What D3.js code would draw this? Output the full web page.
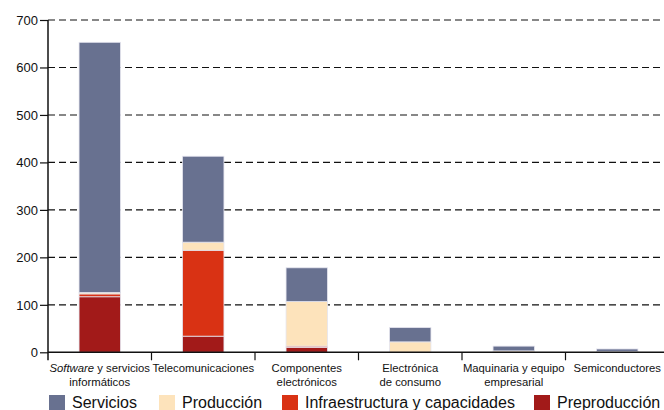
<!DOCTYPE html>
<html><head><meta charset="utf-8">
<script src="https://cdn.jsdelivr.net/npm/d3@7"></script>
<style>body{margin:0;background:#fff}svg{display:block;font-family:"Liberation Sans",Arial,sans-serif}</style>
</head><body><svg id="c" width="664" height="410"></svg>
<script>
const categories = ["Software y servicios informáticos","Telecomunicaciones","Componentes electrónicos","Electrónica de consumo","Maquinaria y equipo empresarial","Semiconductores"];
const labelLines = [["|Software| y servicios","informáticos"],["Telecomunicaciones"],["Componentes","electrónicos"],["Electrónica","de consumo"],["Maquinaria y equipo","empresarial"],["Semiconductores"]];
const seriesNames = ["Preproducción","Infraestructura y capacidades","Producción","Servicios"];
const preproduccion = [117, 34, 10, 0, 0, 0];
const infraestructura = [6, 181, 3, 0, 0, 0];
const produccion = [3, 17, 94, 22, 3, 2];
const servicios = [527, 181, 71, 30, 10, 5];
const colors = ["#a21a19","#d93214","#fde3bb","#687190"];
const yTicks = [0,100,200,300,400,500,600,700];
const legendOrder = ["Servicios","Producción","Infraestructura y capacidades","Preproducción"];

const svg = d3.select("#c");
const x0 = 48, x1 = 669, yTop = 20, yBot = 352.3;
const x = d3.scaleBand().domain(categories).range([x0, x1]).padding(0);
const y = d3.scaleLinear().domain([0,700]).range([yBot, yTop]);

const rows = categories.map((c,i)=>({cat:c, "Preproducción":preproduccion[i], "Infraestructura y capacidades":infraestructura[i], "Producción":produccion[i], "Servicios":servicios[i]}));
const stack = d3.stack().keys(seriesNames)(rows);
const color = d3.scaleOrdinal().domain(seriesNames).range(colors);

// grid
svg.append("g").selectAll("line").data(yTicks.filter(d=>d>0)).join("line")
  .attr("x1", x0).attr("x2", 664).attr("y1", d=>y(d)).attr("y2", d=>y(d))
  .attr("stroke","#111").attr("stroke-width",1.1).attr("stroke-dasharray","7,4");

// bars
const bw = x.bandwidth()*0.4;
svg.append("g").selectAll("g").data(stack).join("g").attr("fill", d=>color(d.key))
  .selectAll("rect").data(d=>d.filter(s=>s[1]-s[0]>0)).join("rect")
  .attr("x", d=>x(d.data.cat)+(x.bandwidth()-bw)/2)
  .attr("width", bw)
  .attr("y", d=>y(d[1]))
  .attr("height", d=>y(d[0])-y(d[1]))
  .attr("stroke","#e4e4ee").attr("stroke-width",0.8);

// y axis
const ya = svg.append("g").attr("transform",`translate(${x0},0)`)
  .call(d3.axisLeft(y).tickValues(yTicks).tickSize(8).tickSizeOuter(0).tickPadding(2));
ya.select(".domain").attr("stroke","#111").attr("stroke-width",1.5).attr("d",`M0,${yTop}V${yBot+8}`);
ya.selectAll(".tick line").attr("stroke","#111").attr("stroke-width",1.2);
ya.selectAll(".tick text").attr("font-size",13).attr("fill","#111").attr("font-family","Liberation Sans, Arial, sans-serif");

// x axis
svg.append("line").attr("x1",x0).attr("x2",664).attr("y1",yBot).attr("y2",yBot).attr("stroke","#111").attr("stroke-width",1.5);
svg.append("g").selectAll("line").data(categories.slice(1)).join("line")
  .attr("x1",d=>x(d)).attr("x2",d=>x(d)).attr("y1",yBot).attr("y2",yBot+8)
  .attr("stroke","#111").attr("stroke-width",1.2);

const lab = svg.append("g").selectAll("text").data(categories).join("text")
  .attr("x", d=>x(d)+x.bandwidth()/2).attr("y", 372).attr("text-anchor","middle")
  .attr("font-size",11.3).attr("fill","#111");
lab.each(function(d,i){
  const t = d3.select(this);
  labelLines[i].forEach((ln,j)=>{
    const ts = t.append("tspan").attr("x", x(d)+x.bandwidth()/2).attr("dy", j===0?0:13.5);
    const parts = ln.split("|");
    if (parts.length>1){
      ts.append("tspan").attr("font-style","italic").text(parts[1]);
      ts.append("tspan").text(parts[2]);
    } else ts.text(ln);
  });
});

// legend
const legX = [49, 159, 282, 534];
const lg = svg.append("g").selectAll("g").data(legendOrder).join("g")
  .attr("transform",(d,i)=>`translate(${legX[i]},395)`);
lg.append("rect").attr("width",16).attr("height",16).attr("fill",d=>color(d));
lg.append("text").attr("x",23).attr("y",12.5).attr("font-size",16).attr("fill","#111").text(d=>d);
</script></body></html>
